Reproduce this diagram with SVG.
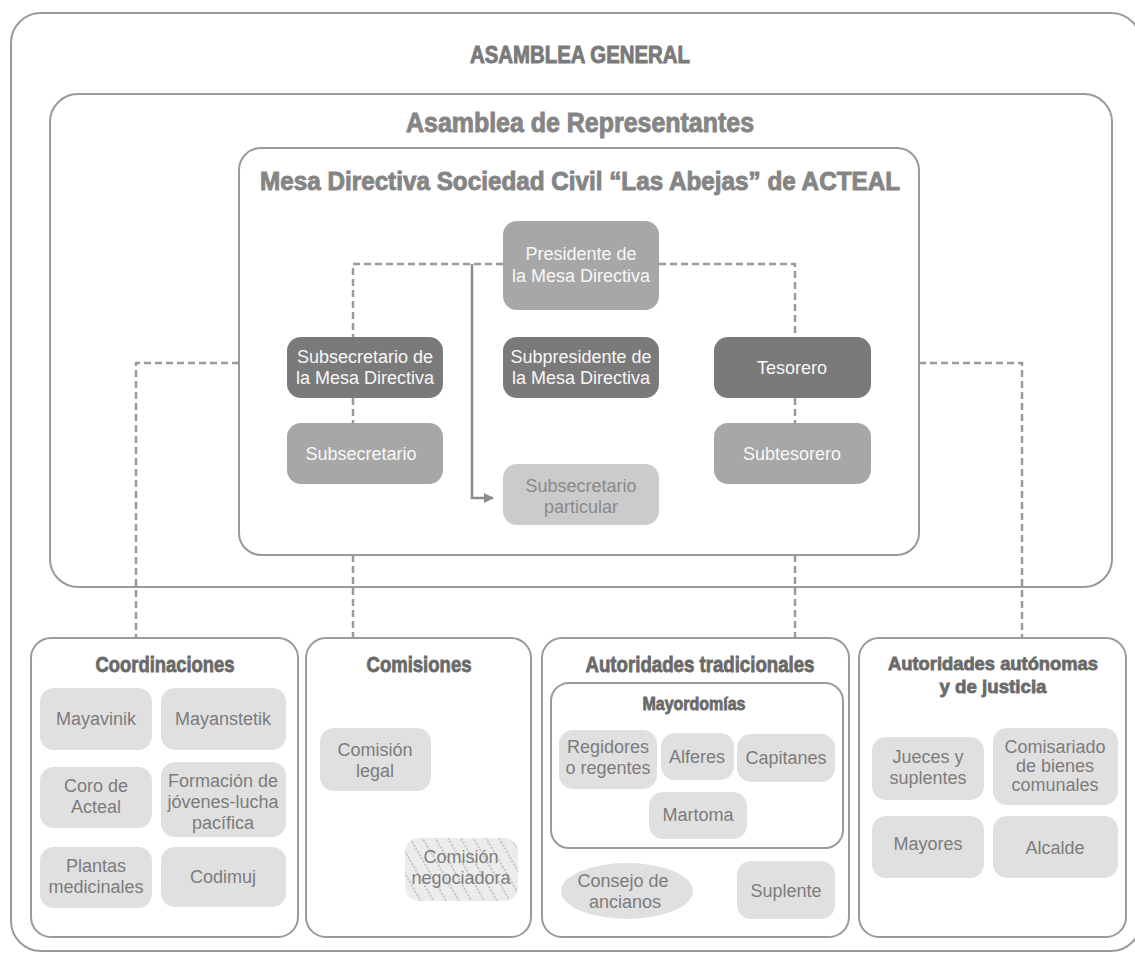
<svg xmlns="http://www.w3.org/2000/svg" width="1135" height="954" viewBox="0 0 1135 954">
<style>
.frame{fill:#ffffff;stroke:#9a9a9a;stroke-width:2}
.title{font-family:"Liberation Sans Narrow","Liberation Sans",Arial,sans-serif;font-weight:bold;text-anchor:middle;fill:#858585;stroke:#858585;stroke-width:0.9}
.head{font-family:"Liberation Sans Narrow","Liberation Sans",Arial,sans-serif;font-weight:bold;text-anchor:middle;fill:#6a6a6a;stroke:#6a6a6a;stroke-width:0.8}
.t{font-family:"Liberation Sans",Arial,sans-serif;font-size:18px;text-anchor:middle}
.w{fill:#f7f7f7}
.g{fill:#7c7c7c}
.dark{fill:#7a7a7a}
.mid{fill:#a7a7a7}
.pale{fill:#cbcbcb}
.light{fill:#e0e0e0}
.dash{fill:none;stroke:#9a9a9a;stroke-width:2.5;stroke-dasharray:7 4}
.solid{fill:none;stroke:#8c8c8c;stroke-width:2.5}
</style>
<defs>
<marker id="arr" markerWidth="10" markerHeight="10" refX="9" refY="5" orient="auto" markerUnits="userSpaceOnUse" viewBox="0 0 10 10">
<path d="M0,0 L10,5 L0,10 Z" fill="#8c8c8c"/>
</marker>
<pattern id="hatch" width="11" height="11" patternUnits="userSpaceOnUse" patternTransform="rotate(-30)">
<rect width="11" height="11" fill="#ececec"/>
<line x1="2" y1="0" x2="2" y2="11" stroke="#9a9a9a" stroke-width="1" stroke-dasharray="2 1.7"/>
</pattern>
</defs>

<g id="asamblea-general">
<rect class="frame" x="11" y="13" width="1130" height="938" rx="30"/>
<text class="title" x="580" y="63" font-size="23" textLength="220" lengthAdjust="spacingAndGlyphs" style="fill:#7a7a7a;stroke:#7a7a7a">ASAMBLEA GENERAL</text>
</g>

<g id="asamblea-representantes">
<rect class="frame" x="50" y="94" width="1062" height="493" rx="28"/>
<text class="title" x="580" y="132" font-size="27" textLength="348" lengthAdjust="spacingAndGlyphs">Asamblea de Representantes</text>
</g>

<g id="mesa-directiva">
<rect class="frame" x="239" y="148" width="680" height="407" rx="22"/>
<text class="title" x="580" y="190" font-size="25" textLength="640" lengthAdjust="spacingAndGlyphs">Mesa Directiva Sociedad Civil “Las Abejas” de ACTEAL</text>
</g>

<g id="connectors">
<path class="dash" d="M503,264 H353 V337"/>
<path class="dash" d="M659,264 H795 V337"/>
<path class="dash" d="M353,398 V423"/>
<path class="dash" d="M795,398 V423"/>
<path class="dash" d="M239,363 H136 V638"/>
<path class="dash" d="M919,363 H1022 V638"/>
<path class="dash" d="M353,555 V638"/>
<path class="dash" d="M795,555 V638"/>
<path class="solid" d="M472,264 V498 H493" marker-end="url(#arr)"/>
</g>

<g id="presidente">
<rect class="mid" x="503" y="221" width="156" height="89" rx="14"/>
<text class="t w" x="581" y="260">Presidente de</text>
<text class="t w" x="581" y="282">la Mesa Directiva</text>
</g>
<g id="subsecretario-mesa">
<rect class="dark" x="287" y="337" width="156" height="61" rx="14"/>
<text class="t w" x="365" y="363">Subsecretario de</text>
<text class="t w" x="365" y="384">la Mesa Directiva</text>
</g>
<g id="subpresidente">
<rect class="dark" x="503" y="337" width="156" height="61" rx="14"/>
<text class="t w" x="581" y="363">Subpresidente de</text>
<text class="t w" x="581" y="384">la Mesa Directiva</text>
</g>
<g id="tesorero">
<rect class="dark" x="714" y="337" width="157" height="61" rx="14"/>
<text class="t w" x="792" y="374">Tesorero</text>
</g>
<g id="subsecretario">
<rect class="mid" x="287" y="423" width="156" height="61" rx="14"/>
<text class="t w" x="361" y="460">Subsecretario</text>
</g>
<g id="subtesorero">
<rect class="mid" x="714" y="423" width="157" height="61" rx="14"/>
<text class="t w" x="792" y="460">Subtesorero</text>
</g>
<g id="subsecretario-particular">
<rect class="pale" x="503" y="464" width="156" height="61" rx="14"/>
<text class="t" x="581" y="492" fill="#8a8a8a">Subsecretario</text>
<text class="t" x="581" y="513" fill="#8a8a8a">particular</text>
</g>

<g id="coordinaciones">
<rect class="frame" x="31" y="638" width="267" height="299" rx="20"/>
<text class="head" x="165" y="672" font-size="22" textLength="139" lengthAdjust="spacingAndGlyphs">Coordinaciones</text>
</g>
<g id="mayavinik">
<rect class="light" x="40" y="688" width="112" height="62" rx="14"/>
<text class="t g" x="96" y="725">Mayavinik</text>
</g>
<g id="mayanstetik">
<rect class="light" x="161" y="688" width="125" height="62" rx="14"/>
<text class="t g" x="223" y="725">Mayanstetik</text>
</g>
<g id="coro-de-acteal">
<rect class="light" x="40" y="767" width="112" height="61" rx="14"/>
<text class="t g" x="96" y="792">Coro de</text>
<text class="t g" x="96" y="813">Acteal</text>
</g>
<g id="formacion">
<rect class="light" x="161" y="762" width="125" height="75" rx="14"/>
<text class="t g" x="223" y="787">Formación de</text>
<text class="t g" x="223" y="808">jóvenes-lucha</text>
<text class="t g" x="223" y="829">pacífica</text>
</g>
<g id="plantas-medicinales">
<rect class="light" x="40" y="847" width="112" height="61" rx="14"/>
<text class="t g" x="96" y="872">Plantas</text>
<text class="t g" x="96" y="893">medicinales</text>
</g>
<g id="codimuj">
<rect class="light" x="161" y="847" width="125" height="60" rx="14"/>
<text class="t g" x="223" y="883">Codimuj</text>
</g>

<g id="comisiones">
<rect class="frame" x="306" y="638" width="225" height="299" rx="20"/>
<text class="head" x="419" y="672" font-size="22" textLength="105" lengthAdjust="spacingAndGlyphs">Comisiones</text>
</g>
<g id="comision-legal">
<rect class="light" x="320" y="728" width="111" height="63" rx="14"/>
<text class="t g" x="375" y="756">Comisión</text>
<text class="t g" x="375" y="777">legal</text>
</g>
<g id="comision-negociadora">
<rect x="405" y="838" width="113" height="63" rx="14" fill="url(#hatch)"/>
<text class="t g" x="461" y="863">Comisión</text>
<text class="t g" x="461" y="884">negociadora</text>
</g>

<g id="autoridades-tradicionales">
<rect class="frame" x="542" y="638" width="307" height="299" rx="20"/>
<text class="head" x="700" y="672" font-size="22" textLength="229" lengthAdjust="spacingAndGlyphs">Autoridades tradicionales</text>
</g>
<g id="mayordomias">
<rect class="frame" x="551" y="683" width="292" height="165" rx="18"/>
<text class="head" x="694" y="710" font-size="18" textLength="103" lengthAdjust="spacingAndGlyphs">Mayordomías</text>
</g>
<g id="regidores">
<rect class="light" x="559" y="730" width="98" height="59" rx="14"/>
<text class="t g" x="608" y="753">Regidores</text>
<text class="t g" x="608" y="774">o regentes</text>
</g>
<g id="alferes">
<rect class="light" x="661" y="733" width="73" height="47" rx="14"/>
<text class="t g" x="697" y="763">Alferes</text>
</g>
<g id="capitanes">
<rect class="light" x="737" y="734" width="98" height="48" rx="14"/>
<text class="t g" x="786" y="764">Capitanes</text>
</g>
<g id="martoma">
<rect class="light" x="649" y="792" width="98" height="47" rx="14"/>
<text class="t g" x="698" y="821">Martoma</text>
</g>
<g id="consejo-de-ancianos">
<ellipse class="light" cx="627" cy="891" rx="66" ry="28"/>
<text class="t g" x="623" y="887">Consejo de</text>
<text class="t g" x="625" y="908">ancianos</text>
</g>
<g id="suplente">
<rect class="light" x="737" y="861" width="98" height="58" rx="14"/>
<text class="t g" x="786" y="897">Suplente</text>
</g>

<g id="autoridades-autonomas">
<rect class="frame" x="859" y="638" width="267" height="299" rx="20"/>
<text class="head" x="993" y="670" font-size="19" textLength="210" lengthAdjust="spacingAndGlyphs">Autoridades autónomas</text>
<text class="head" x="993" y="693" font-size="19" textLength="107" lengthAdjust="spacingAndGlyphs">y de justicia</text>
</g>
<g id="jueces">
<rect class="light" x="872" y="737" width="112" height="63" rx="14"/>
<text class="t g" x="928" y="763">Jueces y</text>
<text class="t g" x="928" y="784">suplentes</text>
</g>
<g id="comisariado">
<rect class="light" x="993" y="728" width="125" height="77" rx="14"/>
<text class="t g" x="1055" y="753">Comisariado</text>
<text class="t g" x="1055" y="772">de bienes</text>
<text class="t g" x="1055" y="791">comunales</text>
</g>
<g id="mayores">
<rect class="light" x="872" y="816" width="112" height="62" rx="14"/>
<text class="t g" x="928" y="850">Mayores</text>
</g>
<g id="alcalde">
<rect class="light" x="993" y="816" width="125" height="62" rx="14"/>
<text class="t g" x="1055" y="854">Alcalde</text>
</g>
</svg>
